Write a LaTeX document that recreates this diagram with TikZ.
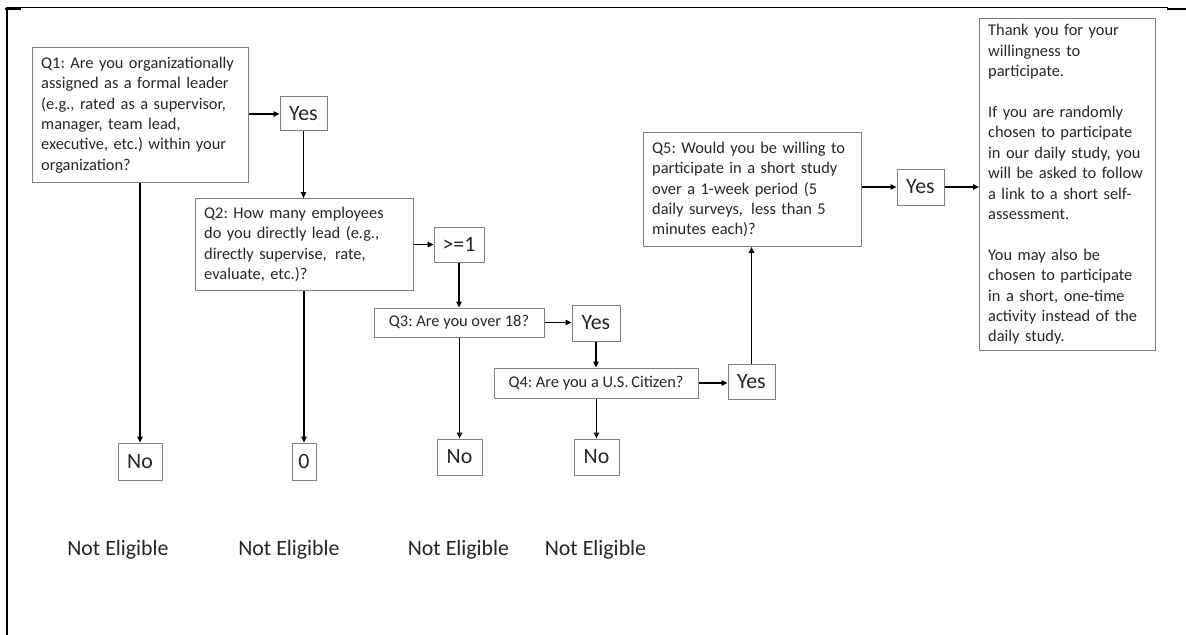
\documentclass[tikz,border=0pt]{standalone}
\usepackage{fontspec}
\setmainfont{Carlito}
\usetikzlibrary{arrows.meta}
\definecolor{boxgray}{gray}{0.5}
\definecolor{inkgray}{gray}{0.15}
\newcommand\qsize{\fontsize{12.3pt}{15.3pt}\selectfont}
\newcommand\bigsize{\fontsize{16.4pt}{19pt}\selectfont}
\frenchspacing

\begin{document}
\begin{tikzpicture}[x=0.75pt,y=-0.75pt,
  qbox/.style={draw=boxgray, line width=0.75pt, anchor=north west, align=left,
    inner xsep=6.5pt, inner ysep=2pt, font=\qsize, text=inkgray},
  linebox/.style={draw=boxgray, line width=0.75pt, inner sep=0pt, font=\qsize, text=inkgray},
  ansbox/.style={draw=boxgray, line width=0.75pt, inner sep=0pt, font=\bigsize, text=inkgray},
  verdict/.style={font=\bigsize, text=inkgray, inner sep=0pt},
  flow/.style={line width=1pt, -{Triangle[length=4.5pt,width=4pt]}},
  frameline/.style={line width=1.5pt, line cap=rect},
]
\useasboundingbox (0,0) rectangle (1186,635);

% page frame
\draw[frameline] (6.5,9.5) -- (6.5,640);
\draw[line width=0.75pt] (6,8) -- (1168,8);
\draw[frameline] (6,9.5) -- (20,9.5);
\draw[frameline] (1168,9.5) -- (1190,9.5);

% question boxes
\node[qbox, text width=149pt, minimum height=101.25pt] (q1) at (32,47)
  {Q1: Are you organizationally\\assigned as a formal leader\\(e.g., rated as a supervisor,\\manager, team lead,\\executive, etc.) within your\\organization?};
\node[qbox, text width=150.5pt, minimum height=69pt] (q2) at (195,198)
  {Q2: How many employees\\do you directly lead (e.g.,\\directly supervise,\enspace rate,\\evaluate, etc.)?};
\node[linebox, minimum width=127.5pt, minimum height=21.75pt] (q3) at (459,322.5)
  {Q3: Are you over 18?};
\node[linebox, minimum width=153pt, minimum height=22.5pt] (q4) at (596,383)
  {Q4: Are you a U.S.\,Citizen?};
\node[qbox, text width=150.5pt, minimum height=85.5pt] (q5) at (643,132)
  {Q5: Would you be willing to\\participate in a short study\\over a 1-week period (5\\daily surveys,\enspace less than 5\\minutes each)?};
\node[qbox, text width=119pt, minimum height=249pt, inner ysep=4pt] (thanks) at (979,18)
  {Thank you for your\\willingness to\\participate.\\[15.3pt]If you are randomly\\chosen to participate\\in our daily study, you\\will be asked to follow\\a link to a short self-\\assessment.\\[15.3pt]You may also be\\chosen to participate\\in a short, one-time\\activity instead of the\\daily study.};

% answer boxes
\node[ansbox, minimum width=35.25pt, minimum height=25.5pt] (yes1) at (303.5,114) {Yes};
\node[ansbox, minimum width=37.5pt, minimum height=26.25pt] (ge1) at (459,244.5) {>=1};
\node[ansbox, minimum width=36pt, minimum height=27pt] (yes2) at (596,323) {Yes};
\node[ansbox, minimum width=35.25pt, minimum height=26.25pt] (yes3) at (751.5,381.5) {Yes};
\node[ansbox, minimum width=35.25pt, minimum height=27pt] (yes4) at (920.5,187) {Yes};
\node[ansbox, minimum width=33pt, minimum height=27.75pt] (no1) at (140,461.5) {No};
\node[ansbox, minimum width=18pt, minimum height=27.75pt] (zero) at (304,461.5) {0};
\node[ansbox, minimum width=33.75pt, minimum height=27pt] (no3) at (459.5,457) {No};
\node[ansbox, minimum width=33.75pt, minimum height=27pt] (no4) at (596.5,457) {No};

% outcomes
\node[verdict] (ne1) at (118,550) {Not Eligible};
\node[verdict] (ne2) at (289,550) {Not Eligible};
\node[verdict] (ne3) at (458.5,550) {Not Eligible};
\node[verdict] (ne4) at (595.5,550) {Not Eligible};

% connectors
\draw[flow] (q1.east |- yes1.west) -- (yes1.west);
\draw[flow] (yes1.south) -- (yes1.south |- q2.north);
\draw[flow] (q1.south -| no1.north) -- (no1.north);
\draw[flow] (q2.east |- ge1.west) -- (ge1.west);
\draw[flow] (q2.south -| zero.north) -- (zero.north);
\draw[flow] (ge1.south) -- (ge1.south |- q3.north);
\draw[flow] (q3.east) -- (yes2.west |- q3.east);
\draw[flow] (q3.south -| no3.north) -- (no3.north);
\draw[flow] (yes2.south) -- (yes2.south |- q4.north);
\draw[flow] (q4.east) -- (yes3.west |- q4.east);
\draw[flow] (q4.south -| no4.north) -- (no4.north);
\draw[flow] (yes3.north) -- (yes3.north |- q5.south);
\draw[flow] (q5.east |- yes4.west) -- (yes4.west);
\draw[flow] (yes4.east) -- (yes4.east -| thanks.west);
\end{tikzpicture}
\end{document}
